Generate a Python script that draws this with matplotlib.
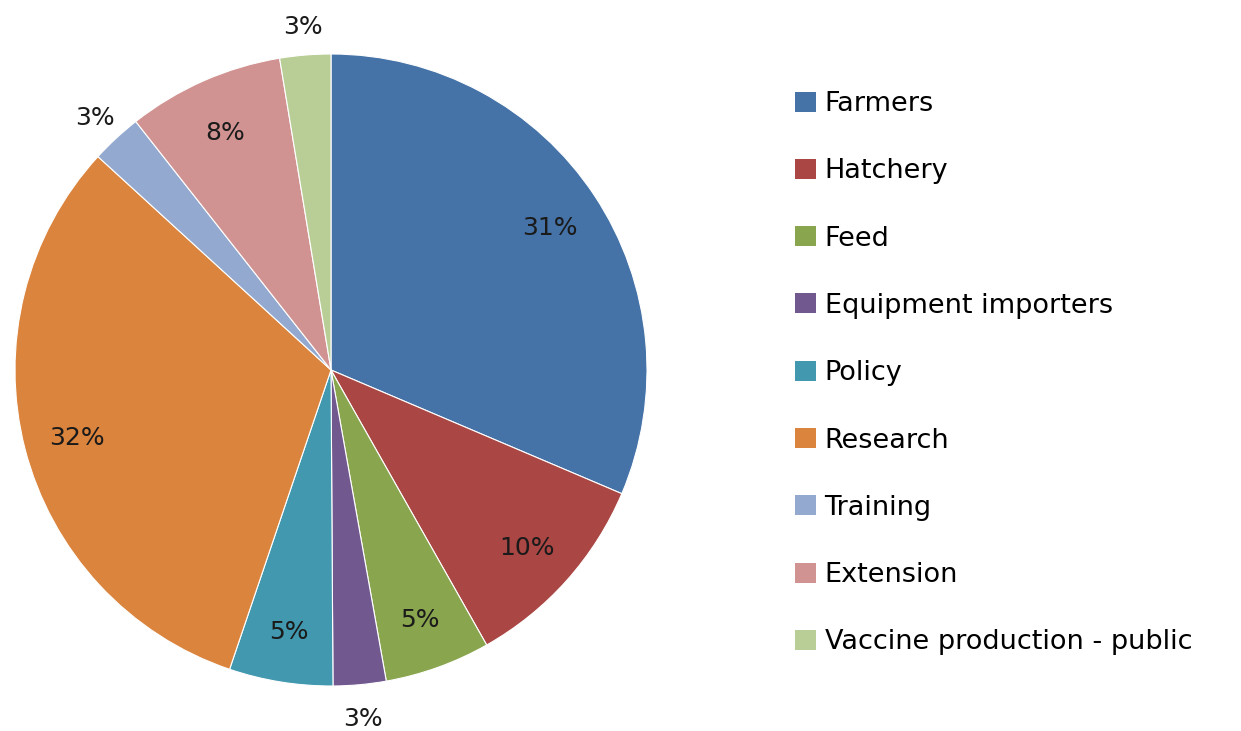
import matplotlib
matplotlib.use("Agg")
import matplotlib.pyplot as plt
import numpy as np
from matplotlib.patches import Patch

plt.rcParams['font.family'] = ['DejaVu Sans']

# data (share of respondents, %)
categories = ['Farmers', 'Hatchery', 'Feed', 'Equipment importers', 'Policy',
              'Research', 'Training', 'Extension', 'Vaccine production - public']
shares = [31.4, 10.4, 5.4, 2.7, 5.3, 31.6, 2.6, 8.0, 2.6]
labels = ['31%', '10%', '5%', '3%', '5%', '32%', '3%', '8%', '3%']
colours = ['#4572A7', '#AA4643', '#89A54E', '#71588F', '#4198AF',
           '#DB843D', '#93A9CF', '#D19392', '#B9CD96']

W, H = 1241, 731
fig = plt.figure(figsize=(W / 100, H / 100), dpi=100)
cx, cy, r = 331, 370, 316
ax = fig.add_axes([(cx - r) / W, (H - cy - r) / H, 2 * r / W, 2 * r / H])

wedges, _ = ax.pie(shares, colors=colours, startangle=90, counterclock=False,
                   radius=1, wedgeprops=dict(edgecolor='white', linewidth=0.8))

# put the percent labels: small slices outside, the rest inside
for w, lab, s in zip(wedges, labels, shares):
    mid = np.deg2rad((w.theta1 + w.theta2) / 2)
    d = 1.1 if s < 4 else 0.83
    ax.text(d * np.cos(mid), d * np.sin(mid) - 0.01, lab, ha='center', va='center',
            fontsize=18, color='#1a1a1a')

ax.set_xlim(-1, 1)
ax.set_ylim(-1, 1)
ax.set_aspect('equal')
ax.axis('off')

handles = [Patch(facecolor=c, edgecolor='none') for c in colours]
fig.legend(handles, categories, loc='upper left',
           bbox_to_anchor=(795 / W, 1 - 91 / H), frameon=False,
           fontsize=19.5, handlelength=0.76, handleheight=0.76,
           handletextpad=0.33, labelspacing=1.525, borderpad=0, borderaxespad=0)

fig.savefig('out.png', dpi=100)
